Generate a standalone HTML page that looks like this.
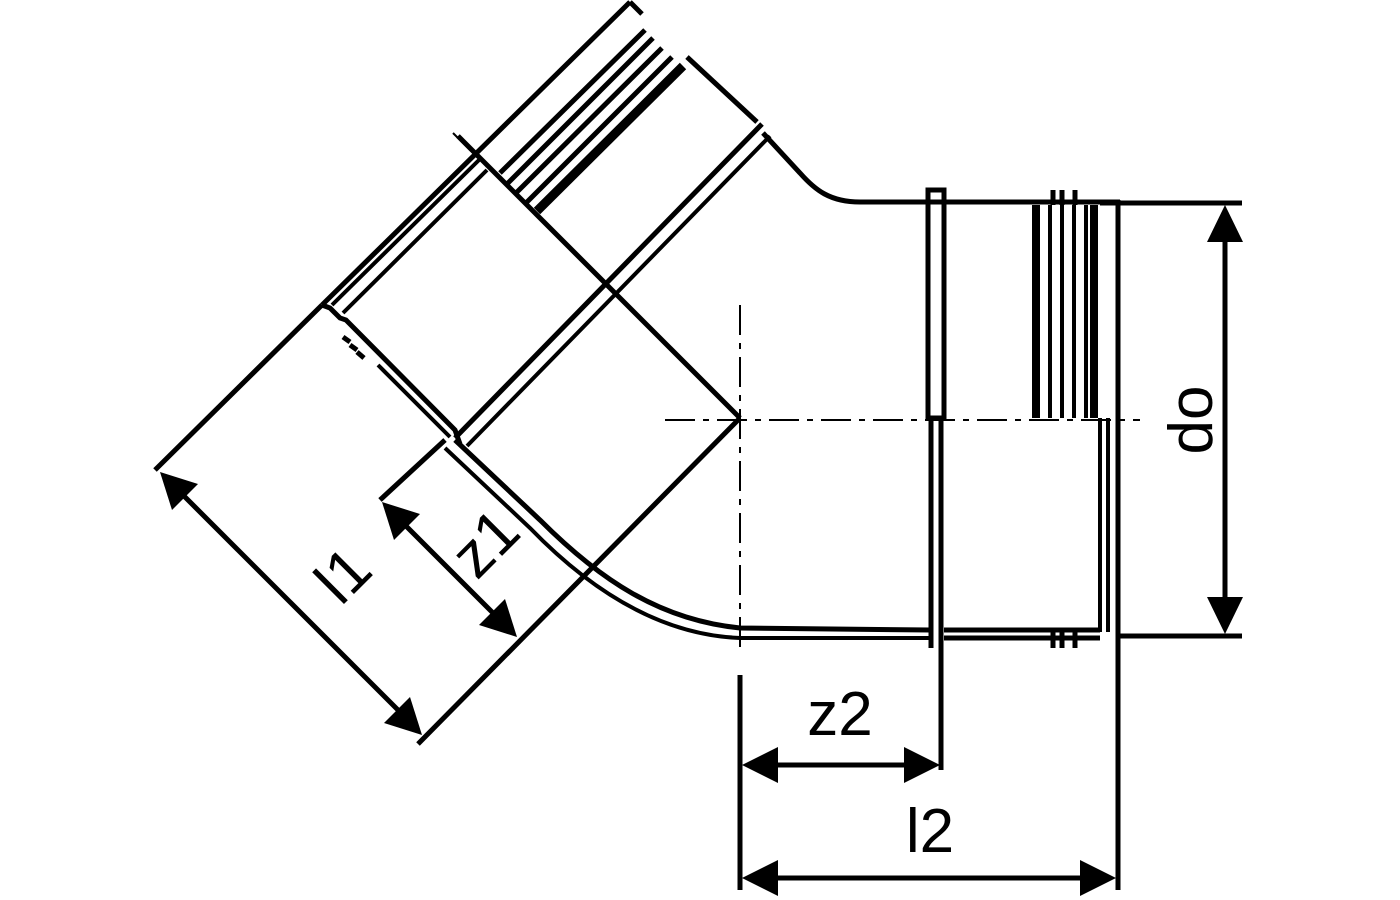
<!DOCTYPE html>
<html><head><meta charset="utf-8"><style>html,body{margin:0;padding:0;background:#fff}svg{display:block}</style></head>
<body>
<svg width="1400" height="900" viewBox="0 0 1400 900" xmlns="http://www.w3.org/2000/svg">
<g stroke="#000" fill="none" stroke-width="5" stroke-linecap="butt">
<line x1="322" y1="305" x2="630" y2="2"/>
<line x1="630" y1="2" x2="642" y2="14"/>
<line x1="332" y1="305" x2="479" y2="160" stroke-width="4"/>
<line x1="343" y1="313" x2="487" y2="170" stroke-width="4"/>
<g stroke-width="5">
<line x1="500" y1="173" x2="645" y2="30"/>
<line x1="508" y1="183" x2="653" y2="38"/>
<line x1="517" y1="192" x2="662" y2="48"/>
<line x1="527" y1="202" x2="672" y2="57"/>
</g>
<line x1="537" y1="211" x2="683" y2="66" stroke-width="9"/>
<line x1="458" y1="136" x2="740" y2="418"/>
<line x1="687" y1="57" x2="757" y2="122"/>
<path d="M763 133 L 800 173 C 815 190, 830 202, 860 202 L 1120 202"/>
<line x1="455" y1="438" x2="762" y2="124"/>
<line x1="467" y1="446" x2="770" y2="136" stroke-width="4"/>
<path d="M322 305 L 330 308 L 340 318 L 346 320 L 455 430 L 460 444"/>
<path d="M343 337 L 350 342 M350 345 L 357 350 M357 352 L 364 358"/>
<path d="M378 365 L 450 437" stroke-width="4"/>
<path d="M455 440 L 540 520 C 600 580, 660 620, 740 628 L 930 630"/>
<path d="M445 448 L 530 528 C 590 590, 660 635, 740 638 L 930 638" stroke-width="4"/>
<path d="M944 630 L 1100 630 M944 638 L 1100 638"/>
<rect x="928" y="190" width="16" height="228" stroke-width="5"/>
<line x1="931" y1="418" x2="931" y2="648"/>
<line x1="941" y1="418" x2="941" y2="770"/>
<g stroke-width="8"><line x1="1036" y1="205" x2="1036" y2="418"/><line x1="1094" y1="205" x2="1094" y2="418"/></g>
<g stroke-width="4"><line x1="1050" y1="205" x2="1050" y2="418"/><line x1="1062" y1="205" x2="1062" y2="418"/><line x1="1074" y1="205" x2="1074" y2="418"/><line x1="1086" y1="205" x2="1086" y2="418"/></g>
<path d="M1053 190 L1053 205 M1062 190 L1062 205 M1075 190 L1075 205"/>
<line x1="1100" y1="418" x2="1100" y2="632" stroke-width="4"/>
<line x1="1108" y1="418" x2="1108" y2="632" stroke-width="4"/>
<line x1="1100" y1="203" x2="1118" y2="203"/>
<path d="M1053 630 L1053 648 M1062 630 L1062 648 M1075 630 L1075 648"/>
<line x1="1118" y1="200" x2="1118" y2="890"/>
<line x1="1118" y1="203" x2="1242" y2="203"/>
<line x1="1118" y1="636" x2="1242" y2="636"/>
<line x1="1225" y1="230" x2="1225" y2="610"/>
<line x1="740" y1="305" x2="740" y2="650" stroke-width="2" stroke-dasharray="30,8,6,8"/>
<line x1="665" y1="420" x2="1140" y2="420" stroke-width="2" stroke-dasharray="30,8,6,8"/>
<line x1="453" y1="133" x2="478" y2="158" stroke-width="2"/>
<line x1="155" y1="470" x2="322" y2="305"/>
<line x1="380" y1="500" x2="445" y2="440"/>
<line x1="418" y1="744" x2="740" y2="418"/>
<line x1="740" y1="675" x2="740" y2="890"/>
<line x1="175" y1="487" x2="407" y2="719"/>
<line x1="395" y1="515" x2="505" y2="625"/>
<line x1="770" y1="765" x2="910" y2="765"/>
<line x1="770" y1="878" x2="1090" y2="878"/>
</g>
<g fill="#000">
<polygon points="1225,205 1207,242 1243,242"/>
<polygon points="1225,634 1207,597 1243,597"/>
<polygon points="742,765 778,747 778,783"/>
<polygon points="940,765 904,747 904,783"/>
<polygon points="742,878 778,860 778,896"/>
<polygon points="1116,878 1080,860 1080,896"/>
<polygon points="160,472 198,484 172,510"/>
<polygon points="422,735 410,697 384,723"/>
<polygon points="382,502 420,514 394,540"/>
<polygon points="517,637 505,599 479,625"/>
</g>
<g font-family="Liberation Sans, sans-serif" font-size="62" fill="#000" text-anchor="middle">
<text x="840" y="735">z2</text>
<text x="930" y="852">l2</text>
<text transform="translate(1212,420) rotate(-90)">do</text>
<text transform="translate(358,590) rotate(-45)">l1</text>
<text transform="translate(500,558) rotate(-45)">z1</text>
</g>
</svg>
</body></html>
